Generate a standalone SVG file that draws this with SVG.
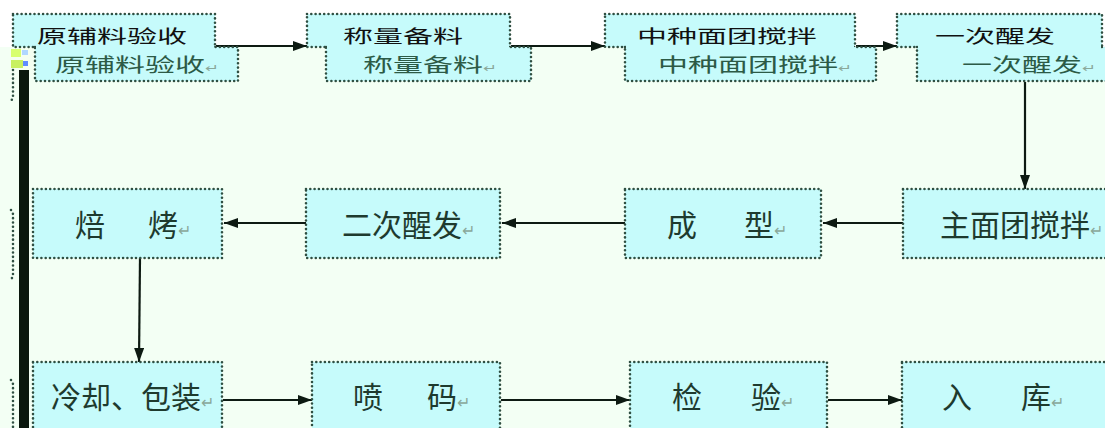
<svg xmlns="http://www.w3.org/2000/svg" width="1105" height="428" viewBox="0 0 1105 428">
<defs>
<marker id="ah" viewBox="0 0 14 10" refX="14" refY="5" markerWidth="14" markerHeight="10" markerUnits="userSpaceOnUse" orient="auto">
<path d="M0,0 L14,5 L0,10 Z" fill="#0d1a12"/>
</marker>
<style>
.box{fill:#c6fbfb;stroke:#2f4f42;stroke-width:2.6;stroke-dasharray:0 4.3;stroke-linecap:round}
.edge{fill:none;stroke:#2f4f42;stroke-width:2.6;stroke-dasharray:0 4.3;stroke-linecap:round}
.t{font-family:"Noto Sans CJK SC","Noto Sans",sans-serif;font-size:30px;fill:#1e3a2e}
.tg{font-family:"Noto Sans CJK SC","Noto Sans",sans-serif;font-size:30px;fill:#2c5a46}
.tb{font-family:"Noto Sans CJK SC","Noto Sans",sans-serif;font-size:30px;fill:#111}
.pm{font-size:16px;fill:#8aa89a}
.c{fill:none;stroke:#0d1a12;stroke-width:2.2;marker-end:url(#ah)}
</style>
</defs>
<rect x="0" y="0" width="1105" height="428" fill="#f3fff4"/>
<rect x="0" y="0" width="1105" height="47" fill="#ffffff"/>
<g id="left-artifacts">
<rect x="10" y="48" width="30" height="22" fill="#f4fff0"/>
<rect x="11" y="49" width="10" height="8" fill="#d8ff70"/>
<rect x="22" y="50" width="6" height="5" fill="#b0d8ff"/>
<rect x="11" y="60" width="12" height="8" fill="#c8f060"/>
<rect x="23" y="61" width="5" height="5" fill="#5f8cff"/>
<path class="edge" d="M13,70 L13,98 L11,101"/>
<path class="edge" d="M11,210 L13,214 L13,276 L11,280"/>
<path class="edge" d="M11,380 L13,384 L13,428"/>
<rect x="19" y="70" width="10" height="358" fill="#0a170d"/>
</g>
<g id="connectors">
<line class="c" x1="216" y1="46" x2="307" y2="46"/>
<line class="c" x1="511" y1="46" x2="605" y2="46"/>
<line class="c" x1="856" y1="46" x2="897" y2="46"/>
<line class="c" x1="1025" y1="82" x2="1025" y2="189"/>
<line class="c" x1="903" y1="223" x2="823" y2="223"/>
<line class="c" x1="625" y1="223" x2="502" y2="223"/>
<line class="c" x1="306" y1="223" x2="224" y2="223"/>
<line class="c" x1="140" y1="258" x2="139" y2="362"/>
<line class="c" x1="223" y1="400" x2="312" y2="400"/>
<line class="c" x1="501" y1="400" x2="630" y2="400"/>
<line class="c" x1="828" y1="400" x2="902" y2="400"/>
</g>
<g id="n1">
<rect class="box" x="13" y="14" width="202" height="33"/>
<rect class="box" x="35" y="47" width="203" height="34"/>
<rect x="36" y="45" width="178" height="4" fill="#c6fbfb"/>
<text class="tg" transform="translate(55,72) scale(1,0.66)">原辅料验收<tspan class="pm">↵</tspan></text>
<text class="tb" transform="translate(37,43) scale(1,0.62)">原辅料验收</text>
</g>
<g id="n2">
<rect class="box" x="307" y="14" width="203" height="33"/>
<rect class="box" x="326" y="47" width="205" height="34"/>
<rect x="327" y="45" width="182" height="4" fill="#c6fbfb"/>
<text class="tg" transform="translate(363,72) scale(1,0.66)">称量备料<tspan class="pm">↵</tspan></text>
<text class="tb" transform="translate(343,43) scale(1,0.62)">称量备料</text>
</g>
<g id="n3">
<rect class="box" x="605" y="14" width="250" height="33"/>
<rect class="box" x="625" y="47" width="251" height="34"/>
<rect x="626" y="45" width="228" height="4" fill="#c6fbfb"/>
<text class="tg" transform="translate(658,72) scale(1,0.66)">中种面团搅拌<tspan class="pm">↵</tspan></text>
<text class="tb" transform="translate(637,43) scale(1,0.62)">中种面团搅拌</text>
</g>
<g id="n4">
<rect class="box" x="897" y="14" width="205" height="33"/>
<rect class="box" x="917" y="47" width="200" height="34"/>
<rect x="918" y="45" width="183" height="4" fill="#c6fbfb"/>
<text class="tg" transform="translate(962,72) scale(1,0.66)">一次醒发<tspan class="pm">↵</tspan></text>
<text class="tb" transform="translate(935,43) scale(1,0.62)">一次醒发</text>
</g>
<g id="n5">
<rect class="box" x="903" y="189" width="215" height="69"/>
<text class="t" x="940" y="236">主面团搅拌<tspan class="pm">↵</tspan></text>
</g>
<g id="n6">
<rect class="box" x="625" y="189" width="196" height="69"/>
<text class="t"><tspan x="667" y="236">成</tspan><tspan x="744" y="236">型</tspan><tspan class="pm">↵</tspan></text>
</g>
<g id="n7">
<rect class="box" x="306" y="189" width="194" height="69"/>
<text class="t" x="342" y="236">二次醒发<tspan class="pm">↵</tspan></text>
</g>
<g id="n8">
<rect class="box" x="33" y="189" width="189" height="69"/>
<text class="t"><tspan x="75" y="236">焙</tspan><tspan x="148" y="236">烤</tspan><tspan class="pm">↵</tspan></text>
</g>
<g id="n9">
<rect class="box" x="33" y="362" width="189" height="80"/>
<text class="t" x="51" y="408">冷却、包装<tspan class="pm">↵</tspan></text>
</g>
<g id="n10">
<rect class="box" x="312" y="362" width="188" height="80"/>
<text class="t"><tspan x="353" y="408">喷</tspan><tspan x="427" y="408">码</tspan><tspan class="pm">↵</tspan></text>
</g>
<g id="n11">
<rect class="box" x="630" y="362" width="197" height="80"/>
<text class="t"><tspan x="672" y="408">检</tspan><tspan x="751" y="408">验</tspan><tspan class="pm">↵</tspan></text>
</g>
<g id="n12">
<rect class="box" x="902" y="362" width="215" height="80"/>
<text class="t"><tspan x="942" y="408">入</tspan><tspan x="1021" y="408">库</tspan><tspan class="pm">↵</tspan></text>
</g>
</svg>
